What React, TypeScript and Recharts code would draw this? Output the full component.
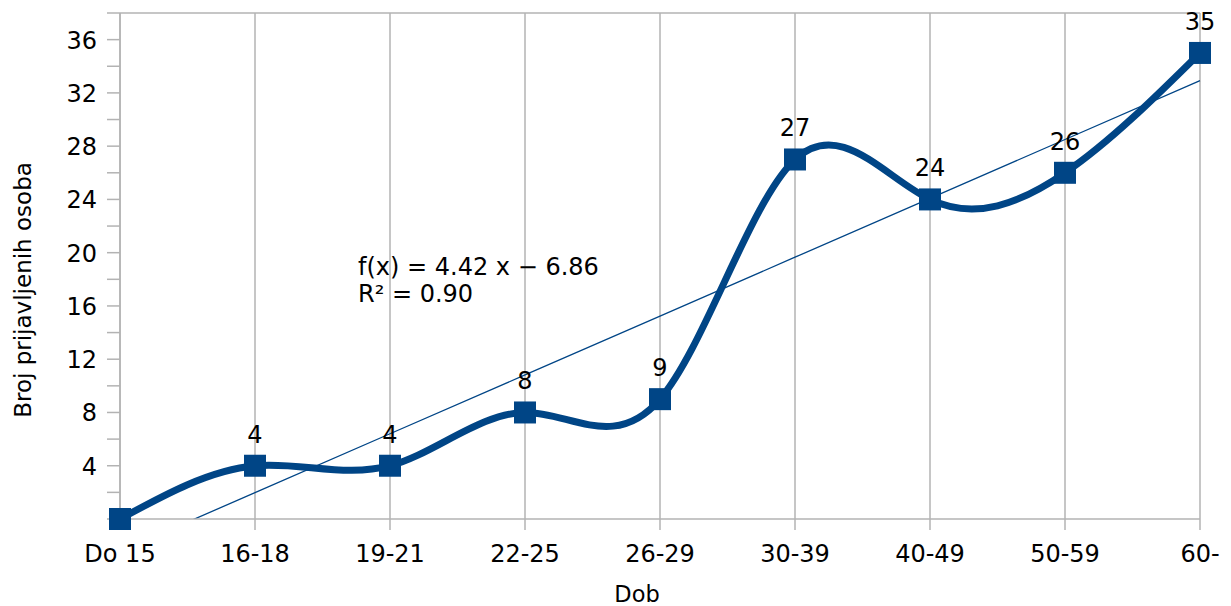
import React from "react";
import { LineChart, Line, XAxis, YAxis, CartesianGrid, ReferenceLine, LabelList } from "recharts";

const categories = ["Do 15", "16-18", "19-21", "22-25", "26-29", "30-39", "40-49", "50-59", "60-"];
const counts = [0, 4, 4, 8, 9, 27, 24, 26, 35];
// linear trend line f(x) = 4.42x - 6.86 evaluated at x = 1..9
const trend = [-2.44, 1.98, 6.4, 10.82, 15.24, 19.66, 24.08, 28.5, 32.92];
const yTicks = [0, 2, 4, 6, 8, 10, 12, 14, 16, 18, 20, 22, 24, 26, 28, 30, 32, 34, 36, 38];

const data = categories.map((c, i) => ({ name: c, value: counts[i], trend: trend[i] }));

const FONT = "'DejaVu Sans', 'Liberation Sans', sans-serif";
const BLUE = "#004586";
const GRID = "#b3b3b3";

const YTick = (props: any) => {
  const { x, y, payload } = props;
  const v = payload.value;
  if (v === 0 || v % 4 !== 0) return null;
  return (
    <text x={x} y={y} dy={9} textAnchor="end" fontSize={24} fill="#000" fontFamily={FONT}>
      {v}
    </text>
  );
};

const XTick = (props: any) => {
  const { x, y, payload } = props;
  return (
    <text x={x} y={y} dy={18} textAnchor="middle" fontSize={24} fill="#000" fontFamily={FONT}>
      {payload.value}
    </text>
  );
};

const PointLabel = (props: any) => {
  const { x, y, value } = props;
  if (value === 0) return null;
  return (
    <text x={x} y={y} dy={-23} textAnchor="middle" fontSize={24} fill="#000" fontFamily={FONT}>
      {value}
    </text>
  );
};

const SquareDot = (props: any) => {
  const { cx, cy, index } = props;
  return <rect key={index} x={cx - 11} y={cy - 11} width={22} height={22} fill={BLUE} />;
};

const YTitle = () => (
  <text
    x={0}
    y={0}
    transform="translate(31,290) rotate(-90)"
    textAnchor="middle"
    fontSize={23}
    fill="#000"
    fontFamily={FONT}
  >
    Broj prijavljenih osoba
  </text>
);

const XTitle = () => (
  <text x={637} y={602} textAnchor="middle" fontSize={22.5} fill="#000" fontFamily={FONT}>
    Dob
  </text>
);

export default function App() {
  return (
    <div style={{ position: "fixed", left: 0, top: 0, width: 1231, height: 606, background: "#fff" }}>
      <LineChart width={1231} height={606} data={data} margin={{ top: 13, right: 31, left: 0, bottom: 0 }}>
        <CartesianGrid vertical={true} horizontal={false} stroke={GRID} strokeWidth={1.5} />
        <XAxis
          dataKey="name"
          height={87}
          stroke={GRID}
          strokeWidth={1.5}
          tickSize={11}
          tickMargin={14}
          tick={<XTick />}
          interval={0}
          label={<XTitle />}
        />
        <YAxis
          yAxisId="main"
          width={120}
          domain={[0, 38]}
          ticks={yTicks}
          interval={0}
          stroke={GRID}
          strokeWidth={1.5}
          tickSize={13}
          tickMargin={10}
          tick={<YTick />}
          label={<YTitle />}
        />
        <YAxis yAxisId="trend" hide domain={[0, 38]} allowDataOverflow />
        <ReferenceLine yAxisId="main" y={38} stroke={GRID} strokeWidth={1.5} />
        <Line
          yAxisId="main"
          type="natural"
          dataKey="value"
          stroke={BLUE}
          strokeWidth={7}
          dot={<SquareDot />}
          activeDot={false}
          isAnimationActive={false}
        >
          <LabelList dataKey="value" content={<PointLabel />} />
        </Line>
        <Line
          yAxisId="trend"
          type="linear"
          dataKey="trend"
          stroke={BLUE}
          strokeWidth={1.3}
          dot={false}
          activeDot={false}
          isAnimationActive={false}
        />
      </LineChart>
      <svg
        width={1231}
        height={606}
        style={{ position: "absolute", left: 0, top: 0, pointerEvents: "none" }}
      >
        <text x={358} y={275} fontSize={24} fill="#000" fontFamily={FONT}>
          f(x) = 4.42 x − 6.86
        </text>
        <text x={358} y={302} fontSize={24} fill="#000" fontFamily={FONT}>
          R² = 0.90
        </text>
      </svg>
    </div>
  );
}
